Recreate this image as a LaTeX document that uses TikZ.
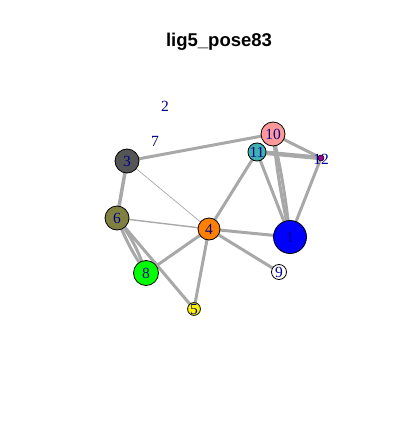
\documentclass[tikz,border=0pt]{standalone}
\usepackage{fontspec}
\setmainfont{Liberation Serif}
\newfontfamily\titlefont{Liberation Sans}
\usetikzlibrary{shapes.geometric, arrows}
\pgfdeclarelayer{back}
\pgfsetlayers{back,main}
\definecolor{edgegray}{RGB}{168,168,168}
\definecolor{labelblue}{RGB}{0,0,139}
\tikzstyle{vertex} = [circle, draw=black, line width=0.8pt, inner sep=0pt, text=labelblue, font=\fontsize{15.5}{15.5}\selectfont]
\tikzstyle{bare} = [inner sep=0pt, text=labelblue, font=\fontsize{15.5}{15.5}\selectfont]
\tikzstyle{link} = [draw=edgegray, line width=3pt]
\tikzstyle{midlink} = [draw=edgegray, line width=1.4pt]
\tikzstyle{thinlink} = [draw=edgegray, line width=0.7pt]

\begin{document}
\begin{tikzpicture}[x=1pt, y=-1pt]
	\useasboundingbox (0,0) rectangle (400,433);
	\node (title) at (219,42) {\titlefont\bfseries\fontsize{18.5}{18.5}\selectfont lig5\_pose83};
	% vertices
	\node (v1) [vertex, fill=blue, minimum size=33pt] at (290,237) {1};
	\node (v2) [bare] at (165,106) {2};
	\node (v3) [vertex, fill={rgb,255:red,85;green,85;blue,85}, minimum size=24pt] at (127,161) {3};
	\node (v4) [vertex, fill={rgb,255:red,255;green,127;blue,0}, minimum size=22pt] at (209,229) {4};
	\node (v5) [vertex, fill=yellow, minimum size=10pt] at (194,309) {5};
	\node (v6) [vertex, fill={rgb,255:red,128;green,128;blue,64}, minimum size=24pt] at (117,218) {6};
	\node (v7) [bare] at (155,141) {7};
	\node (v8) [vertex, fill={rgb,255:red,0;green,255;blue,0}, minimum size=25pt] at (146,273) {8};
	\node (v9) [vertex, fill=white, minimum size=15pt] at (279,272) {9};
	\node (v10) [vertex, fill={rgb,255:red,255;green,153;blue,153}, minimum size=24pt] at (273,134) {10};
	\node (v11) [vertex, fill={rgb,255:red,64;green,176;blue,176}, minimum size=17pt] at (257,152) {11};
	\node (v12) [vertex, fill={rgb,255:red,153;green,0;blue,153}, minimum size=6pt, line width=0.5pt] at (321,158) {};
	\node (l12) [bare] at (321,159) {12};
	% edges
	\begin{pgfonlayer}{back}
		\draw [link] (v3.center) -- (v10.center);
		\draw [link, line width=3.5pt] (v3.center) -- (v6.center);
		\draw [thinlink] (v3.center) -- (v4.center);
		\draw [midlink] (v6.center) -- (v4.center);
		\draw [link] (v6.center) to[bend left=9] (v8.center);
		\draw [link] (v6.center) to[bend right=6] (v8.center);
		\draw [link] (v6.center) -- (v5.center);
		\draw [link] (v4.center) -- (v8.center);
		\draw [link] (v4.center) -- (v5.center);
		\draw [link] (v4.center) -- (v9.center);
		\draw [link] (v4.center) -- (v1.center);
		\draw [link] (v4.center) -- (v11.center);
		\draw [link] (v11.center) -- (v1.center);
		\draw [link] (v10.center) to[bend left=3] (v1.center);
		\draw [link] (v10.center) to[bend right=3] (v1.center);
		\draw [link] (v12.center) -- (v1.center);
		\draw [link] (v10.center) -- (v12.center);
		\draw [link, line width=4.5pt] (v11.center) -- (v12.center);
	\end{pgfonlayer}
\end{tikzpicture}
\end{document}
